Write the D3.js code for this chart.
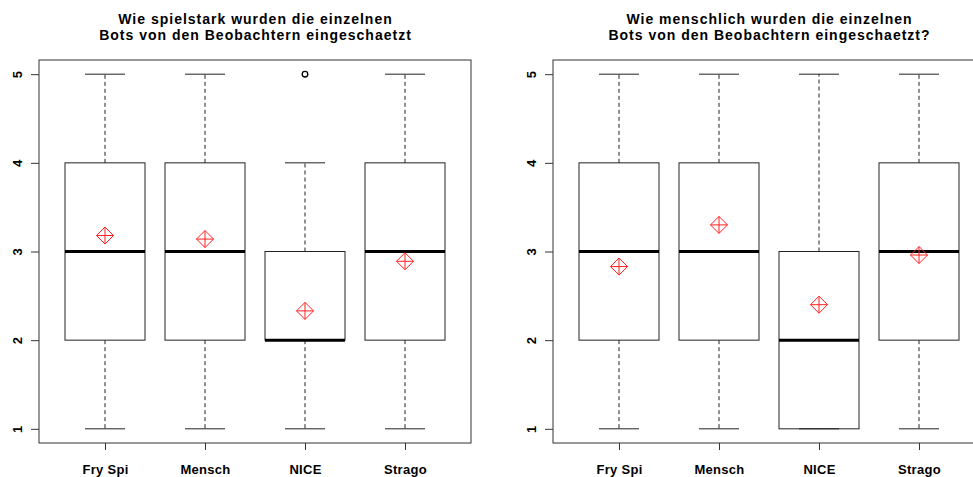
<!DOCTYPE html>
<html>
<head>
<meta charset="utf-8">
<script src="https://cdn.jsdelivr.net/npm/d3@7"></script>
<style>
  html, body { margin: 0; padding: 0; background: #fff; }
  svg { display: block; }
  text { font-family: "Liberation Sans", Arial, Helvetica, sans-serif; }
</style>
</head>
<body>
<div id="chart"></div>
<script>
// ---- data ----
const categories = ["Fry Spi", "Mensch", "NICE", "Strago"];
const yTicks = [1, 2, 3, 4, 5];

const titleLeft = ["Wie spielstark wurden die einzelnen", "Bots von den Beobachtern eingeschaetzt"];
const lowLeft = [1, 1, 1, 1];
const q1Left = [2, 2, 2, 2];
const medianLeft = [3, 3, 2, 3];
const q3Left = [4, 4, 3, 4];
const highLeft = [5, 5, 4, 5];
const meanLeft = [3.18, 3.14, 2.33, 2.89];
const outliersLeft = [[], [], [5], []];

const titleRight = ["Wie menschlich wurden die einzelnen", "Bots von den Beobachtern eingeschaetzt?"];
const lowRight = [1, 1, 1, 1];
const q1Right = [2, 2, 1, 2];
const medianRight = [3, 3, 2, 3];
const q3Right = [4, 4, 3, 4];
const highRight = [5, 5, 5, 5];
const meanRight = [2.83, 3.30, 2.40, 2.96];
const outliersRight = [[], [], [], []];

// ---- drawing ----
const W = 973, H = 477;
const svg = d3.select("#chart").append("svg").attr("width", W).attr("height", H);

function panel(left, title, low, q1, med, q3, high, mean, outl) {
  const top = 60, bottom = 443, width = 432;
  const x = d3.scaleLinear().domain([0.34, 4.66]).range([left, left + width]);
  const y = d3.scaleLinear().domain([0.84, 5.16]).range([bottom, top]);
  const g = svg.append("g");

  // title (two separate lines)
  g.selectAll(".title").data(title).enter().append("text")
    .attr("text-anchor", "middle")
    .attr("font-size", 14).attr("font-weight", "bold").attr("letter-spacing", "1px")
    .attr("x", left + width / 2 + 0.5)
    .attr("y", (d, i) => 24 + i * 15.5)
    .text(d => d);

  const data = categories.map((c, i) => ({
    c, i: i + 1, low: low[i], q1: q1[i], med: med[i], q3: q3[i], high: high[i], mean: mean[i], out: outl[i]
  }));
  const bw = 0.4, cw = 0.2;
  const col = "#222";

  const b = g.selectAll(".bx").data(data).enter().append("g");
  // whiskers (dashed)
  b.append("line").attr("x1", d => x(d.i)).attr("x2", d => x(d.i))
    .attr("y1", d => y(d.q3)).attr("y2", d => y(d.high))
    .attr("stroke", col).attr("stroke-dasharray", "4,3");
  b.append("line").attr("x1", d => x(d.i)).attr("x2", d => x(d.i))
    .attr("y1", d => y(d.q1)).attr("y2", d => y(d.low))
    .attr("stroke", col).attr("stroke-dasharray", "4,3");
  // caps
  b.append("line").attr("x1", d => x(d.i - cw)).attr("x2", d => x(d.i + cw))
    .attr("y1", d => y(d.high)).attr("y2", d => y(d.high)).attr("stroke", col);
  b.append("line").attr("x1", d => x(d.i - cw)).attr("x2", d => x(d.i + cw))
    .attr("y1", d => y(d.low)).attr("y2", d => y(d.low)).attr("stroke", col);
  // box
  b.append("rect").attr("x", d => x(d.i - bw)).attr("width", d => x(d.i + bw) - x(d.i - bw))
    .attr("y", d => y(d.q3)).attr("height", d => y(d.q1) - y(d.q3))
    .attr("fill", "none").attr("stroke", col);
  // median
  b.append("line").attr("x1", d => x(d.i - bw)).attr("x2", d => x(d.i + bw))
    .attr("y1", d => y(d.med)).attr("y2", d => y(d.med))
    .attr("stroke", "#000").attr("stroke-width", 3);
  // outliers
  b.selectAll("circle").data(d => d.out.map(v => ({ i: d.i, v }))).enter().append("circle")
    .attr("cx", d => x(d.i)).attr("cy", d => y(d.v)).attr("r", 2.8)
    .attr("fill", "none").attr("stroke", "#000").attr("stroke-width", 1.3);
  // mean marker: diamond with plus
  const r = 8.5;
  b.append("path").attr("d", d => {
    const cx = x(d.i), cy = y(d.mean);
    return `M${cx},${cy - r}L${cx + r},${cy}L${cx},${cy + r}L${cx - r},${cy}Z` +
      `M${cx - r},${cy}L${cx + r},${cy}M${cx},${cy - r}L${cx},${cy + r}`;
  }).attr("fill", "none").attr("stroke", "#ff2020").attr("stroke-width", 1);

  // frame
  g.append("rect").attr("x", left).attr("y", top).attr("width", width).attr("height", bottom - top)
    .attr("fill", "none").attr("stroke", "#333");

  // y axis
  const ya = g.append("g").attr("transform", `translate(${left},0)`)
    .call(d3.axisLeft(y).tickValues(yTicks).tickSize(8).tickPadding(10).tickFormat(d3.format("d")));
  ya.select(".domain").remove();
  ya.selectAll(".tick line").attr("stroke", "#333");
  ya.selectAll(".tick text")
    .attr("font-size", 13).attr("font-weight", "bold").attr("fill", "#000")
    .attr("text-anchor", "middle").attr("dy", null)
    .attr("transform", "translate(-22,0) rotate(-90)")
    .attr("x", 0).attr("y", 4.5);

  // x axis
  const xa = g.append("g").attr("transform", `translate(0,${bottom})`)
    .call(d3.axisBottom(x).tickValues([1, 2, 3, 4]).tickSize(7).tickFormat(d => categories[d - 1]));
  xa.select(".domain").remove();
  xa.selectAll(".tick line").attr("stroke", "#333");
  xa.selectAll(".tick text")
    .attr("font-size", 13).attr("font-weight", "bold").attr("fill", "#000")
    .attr("letter-spacing", "0.3px").attr("dy", null).attr("y", 31);
}

panel(39, titleLeft, lowLeft, q1Left, medianLeft, q3Left, highLeft, meanLeft, outliersLeft);
panel(553, titleRight, lowRight, q1Right, medianRight, q3Right, highRight, meanRight, outliersRight);
</script>
</body>
</html>
